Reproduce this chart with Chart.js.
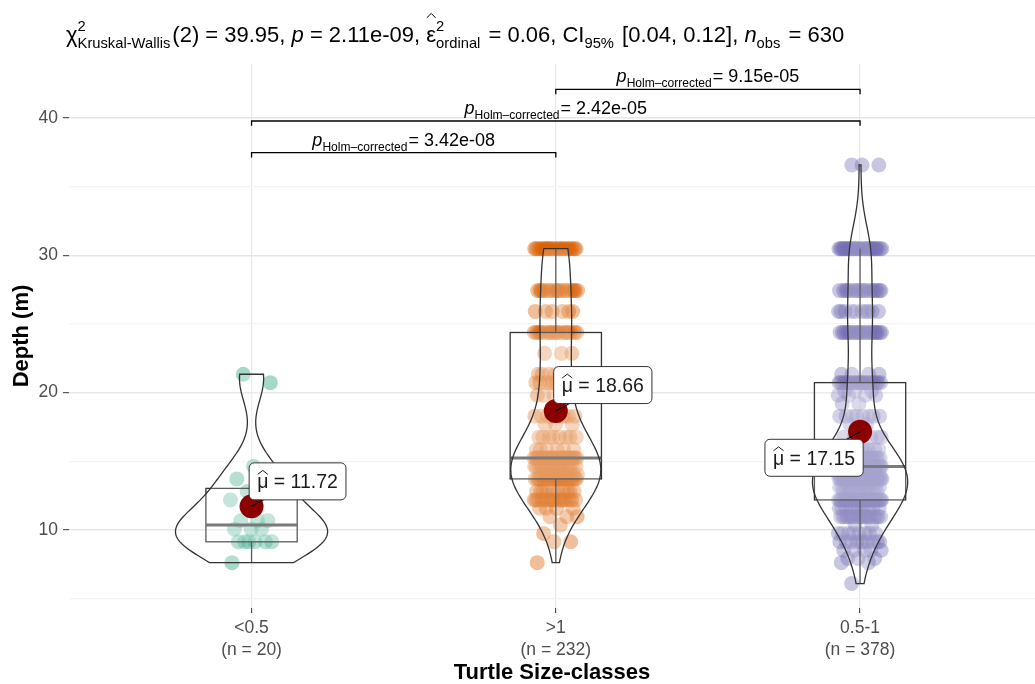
<!DOCTYPE html>
<html>
<head>
<meta charset="utf-8">
<script src="https://cdn.jsdelivr.net/npm/chart.js@4.4.0/dist/chart.umd.min.js"></script>
<style>
  html, body { margin: 0; padding: 0; background: #ffffff; }
  #wrap { width: 1035px; height: 684px; }
</style>
</head>
<body>
<div id="wrap"><canvas id="depth-chart" width="1035" height="684"></canvas></div>
<script>
// Size classes along the x axis
const groupLabels = ['<0.5', '>1', '0.5-1'];
const groupSizes = [20, 232, 378];
const groupColours = ['#1B9E77', '#D95F02', '#7570B3'];

// Depth levels (m) that occur in the records, deepest first
const depthLevels = [36.58, 30.48, 27.43, 25.91, 24.38, 22.86, 21.34, 20.73, 20.12, 19.81, 19.20,
  18.29, 17.68, 16.76, 15.85, 15.24, 14.63, 14.02, 13.72, 13.11, 12.80, 12.19, 11.58, 10.97,
  10.67, 10.36, 10.06, 9.75, 9.14, 8.53, 7.92, 7.62, 6.10];

// Number of turtles seen at each depth level, per size class
const countsSmall = [0, 0, 0, 0, 0, 0, 1, 1, 0, 0, 0, 0, 0, 0, 0, 0, 1, 0, 2, 0, 1, 1, 0, 0, 3, 0, 3, 0, 6, 0, 0, 1, 0];
const countsLarge = [0, 22, 16, 6, 18, 3, 7, 12, 0, 4, 0, 9, 3, 8, 6, 32, 18, 8, 22, 0, 10, 16, 4, 3, 0, 1, 0, 1, 2, 0, 0, 1, 0];
const countsMedium = [3, 32, 18, 10, 24, 0, 4, 22, 3, 4, 2, 8, 2, 6, 10, 22, 35, 16, 40, 14, 4, 40, 10, 18, 0, 2, 0, 8, 10, 5, 3, 2, 1];

// Reported group means
const meanDepths = [11.72, 18.66, 17.15];

// Pairwise Dunn tests: [group a, group b, Holm-corrected p]
const pairwise = [[1, 2, '3.42e-08'], [1, 3, '2.42e-05'], [2, 3, '9.15e-05']];

// Kruskal-Wallis summary
const kwStat = '39.95';
const kwDf = '2';
const kwP = '2.11e-09';
const kwEffect = '0.06';
const kwCI = ['0.04', '0.12'];
const kwN = '630';

const yTicks = [5, 10, 15, 20, 25, 30, 35, 40];

const FONT = "'Liberation Sans', Arial, sans-serif";
const JITTER = 0.072;
const BW_ADJUST = 1.2;

function expandDepths(counts) {
  const out = [];
  counts.forEach((c, i) => {
    for (let k = 0; k < c; k++) out.push(depthLevels[i]);
  });
  return out;
}

// deterministic horizontal spread so points in the same row do not stack
function jitterOffset(k) {
  return (((k * 0.6180339887 + 0.31) % 1) - 0.5) * 2 * JITTER;
}

function rgba(hex, a) {
  const n = parseInt(hex.slice(1), 16);
  return `rgba(${(n >> 16) & 255},${(n >> 8) & 255},${n & 255},${a})`;
}

const groupDepths = [expandDepths(countsSmall), expandDepths(countsLarge), expandDepths(countsMedium)];

// ---- summary statistics (same rules as R: quantile type 7, bw.nrd0) ----
function quantile(sorted, p) {
  const h = (sorted.length - 1) * p;
  const lo = Math.floor(h);
  const hi = Math.min(lo + 1, sorted.length - 1);
  return sorted[lo] + (h - lo) * (sorted[hi] - sorted[lo]);
}

function boxStats(values) {
  const s = values.slice().sort((a, b) => a - b);
  const q1 = quantile(s, 0.25);
  const med = quantile(s, 0.5);
  const q3 = quantile(s, 0.75);
  const iqr = q3 - q1;
  const lo = s.find((v) => v >= q1 - 1.5 * iqr);
  const hi = s.slice().reverse().find((v) => v <= q3 + 1.5 * iqr);
  return { q1, med, q3, lo, hi, min: s[0], max: s[s.length - 1], sorted: s };
}

function bandwidth(st) {
  const s = st.sorted;
  const n = s.length;
  const mean = s.reduce((a, b) => a + b, 0) / n;
  const sd = Math.sqrt(s.reduce((a, b) => a + (b - mean) * (b - mean), 0) / (n - 1));
  return BW_ADJUST * 0.9 * Math.min(sd, (st.q3 - st.q1) / 1.34) * Math.pow(n, -0.2);
}

function density(values, bw, y) {
  let sum = 0;
  for (const v of values) {
    const z = (y - v) / bw;
    sum += Math.exp(-0.5 * z * z);
  }
  return sum / (values.length * bw * Math.sqrt(2 * Math.PI));
}

const stats = groupDepths.map(boxStats);
const violinSteps = 256;
const violins = stats.map((st) => {
  const bw = bandwidth(st);
  const rows = [];
  for (let i = 0; i <= violinSteps; i++) {
    const y = st.min + (st.max - st.min) * (i / violinSteps);
    rows.push({ y, d: density(st.sorted, bw, y) });
  }
  return rows;
});
// scale = "area": every violin shares the same density-to-width ratio
const maxDensity = Math.max(...violins.map((rows) => Math.max(...rows.map((r) => r.d))));

// ---- drawing helpers ----
function drawHat(ctx, x, w, top, h) {
  ctx.save();
  ctx.lineWidth = 1;
  ctx.strokeStyle = ctx.fillStyle;
  ctx.beginPath();
  ctx.moveTo(x + w * 0.05, top + h);
  ctx.lineTo(x + w / 2, top);
  ctx.lineTo(x + w * 0.95, top + h);
  ctx.stroke();
  ctx.restore();
}

// text runs with italic parts, hats and stacked sub/superscripts
function richText(ctx, parts, x, y, size, ratio, draw, gap = 1) {
  let cx = x;
  const small = size * ratio;
  parts.forEach((p) => {
    if (p.t !== undefined) {
      ctx.font = `${p.it ? 'italic ' : ''}${size}px ${FONT}`;
      const w = ctx.measureText(p.t).width;
      if (draw) {
        ctx.fillText(p.t, cx, y);
        if (p.hat) drawHat(ctx, cx, w, y - size * p.hat, size * 0.2);
      }
      cx += w;
    } else {
      ctx.font = `${small}px ${FONT}`;
      let w = 0;
      if (p.sup) {
        if (draw) ctx.fillText(p.sup, cx, y - size * 0.5);
        w = Math.max(w, ctx.measureText(p.sup).width);
      }
      if (p.sub) {
        if (draw) ctx.fillText(p.sub, cx, y + size * 0.28);
        w = Math.max(w, ctx.measureText(p.sub).width);
      }
      cx += w + gap;
    }
  });
  return cx - x;
}

function drawViolinsAndBoxes(chart) {
  const { ctx } = chart;
  const xs = chart.scales.x;
  const ys = chart.scales.y;
  ctx.save();
  stats.forEach((st, g) => {
    const c = g + 1;
    const left = xs.getPixelForValue(c - 0.15);
    const right = xs.getPixelForValue(c + 0.15);
    const mid = xs.getPixelForValue(c);
    // whiskers
    ctx.strokeStyle = '#333333';
    ctx.lineWidth = 1.3;
    ctx.beginPath();
    ctx.moveTo(mid, ys.getPixelForValue(st.q3));
    ctx.lineTo(mid, ys.getPixelForValue(st.hi));
    ctx.moveTo(mid, ys.getPixelForValue(st.q1));
    ctx.lineTo(mid, ys.getPixelForValue(st.lo));
    ctx.stroke();
    // box
    const top = ys.getPixelForValue(st.q3);
    const bottom = ys.getPixelForValue(st.q1);
    ctx.fillStyle = 'rgba(255,255,255,0.2)';
    ctx.fillRect(left, top, right - left, bottom - top);
    ctx.strokeRect(left, top, right - left, bottom - top);
    // median
    ctx.strokeStyle = '#595959';
    ctx.lineWidth = 3;
    ctx.beginPath();
    ctx.moveTo(left, ys.getPixelForValue(st.med));
    ctx.lineTo(right, ys.getPixelForValue(st.med));
    ctx.stroke();
  });
  violins.forEach((rows, g) => {
    const c = g + 1;
    ctx.beginPath();
    rows.forEach((r, i) => {
      const hw = (r.d / maxDensity) * 0.25;
      const px = xs.getPixelForValue(c - hw);
      const py = ys.getPixelForValue(r.y);
      if (i === 0) ctx.moveTo(px, py); else ctx.lineTo(px, py);
    });
    for (let i = rows.length - 1; i >= 0; i--) {
      const r = rows[i];
      const hw = (r.d / maxDensity) * 0.25;
      ctx.lineTo(xs.getPixelForValue(c + hw), ys.getPixelForValue(r.y));
    }
    ctx.closePath();
    ctx.fillStyle = 'rgba(255,255,255,0.2)';
    ctx.fill();
    ctx.strokeStyle = '#333333';
    ctx.lineWidth = 1.3;
    ctx.stroke();
  });
  ctx.restore();
}

// label nudges (px) for the mean call-outs
const labelNudge = [[46, -25], [47, -26], [-46, 26]];

function drawMeanLabels(chart) {
  const { ctx } = chart;
  const xs = chart.scales.x;
  const ys = chart.scales.y;
  const size = 19.5;
  ctx.save();
  meanDepths.forEach((m, g) => {
    const px = xs.getPixelForValue(g + 1);
    const py = ys.getPixelForValue(m);
    const parts = [{ t: '\u03bc', hat: 0.92 }, { t: ' = ' + m.toFixed(2) }];
    const tw = richText(ctx, parts, 0, 0, size, 0.7, false);
    const w = tw + 16;
    const h = 37;
    const cx = px + labelNudge[g][0];
    const cy = py + labelNudge[g][1];
    const bx = cx - w / 2;
    const by = cy - h / 2;
    // segment from the point to the label edge
    const dx = cx - px;
    const dy = cy - py;
    const t = Math.min((w / 2) / Math.abs(dx), (h / 2) / Math.abs(dy));
    ctx.strokeStyle = '#000000';
    ctx.lineWidth = 1.1;
    ctx.beginPath();
    ctx.moveTo(px, py);
    ctx.lineTo(cx - dx * t, cy - dy * t);
    ctx.stroke();
    // rounded label box
    ctx.beginPath();
    ctx.roundRect(bx, by, w, h, 5);
    ctx.fillStyle = '#ffffff';
    ctx.fill();
    ctx.strokeStyle = '#333333';
    ctx.lineWidth = 1;
    ctx.stroke();
    ctx.fillStyle = '#1a1a1a';
    ctx.textBaseline = 'alphabetic';
    richText(ctx, parts, cx - tw / 2, cy + 7, size, 0.7, true);
  });
  ctx.restore();
}

const BRACKET_START = 0.9;
const BRACKET_STEP = 2.3;
const BRACKET_TIP = 0.35;

function drawBrackets(chart) {
  const { ctx } = chart;
  const xs = chart.scales.x;
  const ys = chart.scales.y;
  const top = Math.max(...stats.map((s) => s.max));
  ctx.save();
  pairwise.forEach(([a, b, p], k) => {
    const yv = top + BRACKET_START + k * BRACKET_STEP;
    const y = ys.getPixelForValue(yv);
    const yt = ys.getPixelForValue(yv - BRACKET_TIP);
    const x1 = xs.getPixelForValue(a);
    const x2 = xs.getPixelForValue(b);
    ctx.strokeStyle = '#000000';
    ctx.lineWidth = 1.3;
    ctx.beginPath();
    ctx.moveTo(x1, yt);
    ctx.lineTo(x1, y);
    ctx.lineTo(x2, y);
    ctx.lineTo(x2, yt);
    ctx.stroke();
    const parts = [{ t: 'p', it: true }, { sub: 'Holm\u2013corrected' }, { t: '= ' + p }];
    const w = richText(ctx, parts, 0, 0, 18, 0.67, false);
    ctx.fillStyle = '#000000';
    richText(ctx, parts, (x1 + x2) / 2 - w / 2, y - 7, 18, 0.67, true);
  });
  ctx.restore();
}

function drawSubtitle(chart) {
  const { ctx } = chart;
  const parts = [
    { t: '\u03c7' }, { sup: '2', sub: 'Kruskal-Wallis' },
    { t: '(' + kwDf + ') = ' + kwStat + ', ' },
    { t: 'p', it: true }, { t: ' = ' + kwP + ', ' },
    { t: '\u03b5', hat: 1.3 }, { sup: '2', sub: 'ordinal' },
    { t: ' = ' + kwEffect + ', CI' }, { sub: '95%' },
    { t: ' [' + kwCI[0] + ', ' + kwCI[1] + '], ' },
    { t: 'n', it: true }, { sub: 'obs' }, { t: ' = ' + kwN },
  ];
  ctx.save();
  ctx.fillStyle = '#000000';
  richText(ctx, parts, 66, 42, 22, 0.67, true, 2);
  ctx.restore();
}

const statsLayer = {
  id: 'statsLayer',
  beforeDraw(chart) {
    const { ctx } = chart;
    ctx.save();
    ctx.fillStyle = '#ffffff';
    ctx.fillRect(0, 0, chart.width, chart.height);
    ctx.restore();
  },
  beforeDatasetDraw(chart, args) {
    if (args.index === 3) drawViolinsAndBoxes(chart);
  },
  afterDatasetsDraw(chart) {
    drawMeanLabels(chart);
    drawBrackets(chart);
    drawSubtitle(chart);
  },
};

const pointSets = groupDepths.map((depths, g) => ({
  label: groupLabels[g],
  data: depths.map((d, k) => ({ x: g + 1 + jitterOffset(k), y: d })),
  backgroundColor: rgba(groupColours[g], 0.4),
  pointRadius: 7.5,
  borderWidth: 0,
  order: 1,
}));

const meanSet = {
  label: 'mean',
  data: meanDepths.map((m, g) => ({ x: g + 1, y: m })),
  backgroundColor: '#8B0000',
  pointRadius: 12,
  borderWidth: 0,
  order: 0,
};

new Chart(document.getElementById('depth-chart').getContext('2d'), {
  type: 'scatter',
  data: { datasets: [...pointSets, meanSet] },
  options: {
    responsive: false,
    animation: false,
    devicePixelRatio: 1,
    events: [],
    layout: { autoPadding: false, padding: { top: 64, right: 0, bottom: 0, left: 0 } },
    plugins: { legend: { display: false }, tooltip: { enabled: false }, title: { display: false } },
    scales: {
      x: {
        type: 'linear',
        min: 0.4,
        max: 3.575,
        afterBuildTicks: (s) => { s.ticks = groupLabels.map((_, i) => ({ value: i + 1 })); },
        afterFit: (s) => { s.height = 76; s.paddingLeft = 0; s.paddingRight = 0; },
        border: { display: false },
        grid: { color: '#ebebeb', lineWidth: 1.3, tickLength: 5, tickColor: '#333333', tickWidth: 1 },
        ticks: {
          autoSkip: false,
          maxRotation: 0,
          padding: 4,
          color: '#4d4d4d',
          font: { family: FONT, size: 17.5, lineHeight: 1.25 },
          callback: (v) => [groupLabels[v - 1], `(n = ${groupSizes[v - 1]})`],
        },
        title: {
          display: true,
          text: 'Turtle Size-classes',
          color: '#000000',
          font: { family: FONT, size: 22, weight: 'bold', lineHeight: 1 },
          padding: { top: 0, bottom: 0 },
        },
      },
      y: {
        min: 4.32,
        max: 43.93,
        afterBuildTicks: (s) => { s.ticks = yTicks.map((v) => ({ value: v })); },
        afterFit: (s) => { s.width = 69; },
        border: { display: false },
        grid: {
          color: (c) => (c.tick && c.tick.value % 10 === 0 ? '#e6e6e6' : '#f3f3f3'),
          lineWidth: (c) => (c.tick && c.tick.value % 10 === 0 ? 1.4 : 1.2),
          tickLength: 6,
          tickWidth: 1,
          tickColor: (c) => (c.tick && c.tick.value % 10 === 0 ? '#333333' : 'rgba(0,0,0,0)'),
        },
        ticks: {
          padding: 5,
          color: '#4d4d4d',
          font: { family: FONT, size: 17.5 },
          callback: (v) => (v % 10 === 0 ? String(v) : ''),
        },
        title: {
          display: true,
          text: 'Depth (m)',
          color: '#000000',
          font: { family: FONT, size: 22, weight: 'bold', lineHeight: 1 },
          padding: { top: 11, bottom: 0 },
        },
      },
    },
  },
  plugins: [statsLayer],
});
</script>
</body>
</html>
